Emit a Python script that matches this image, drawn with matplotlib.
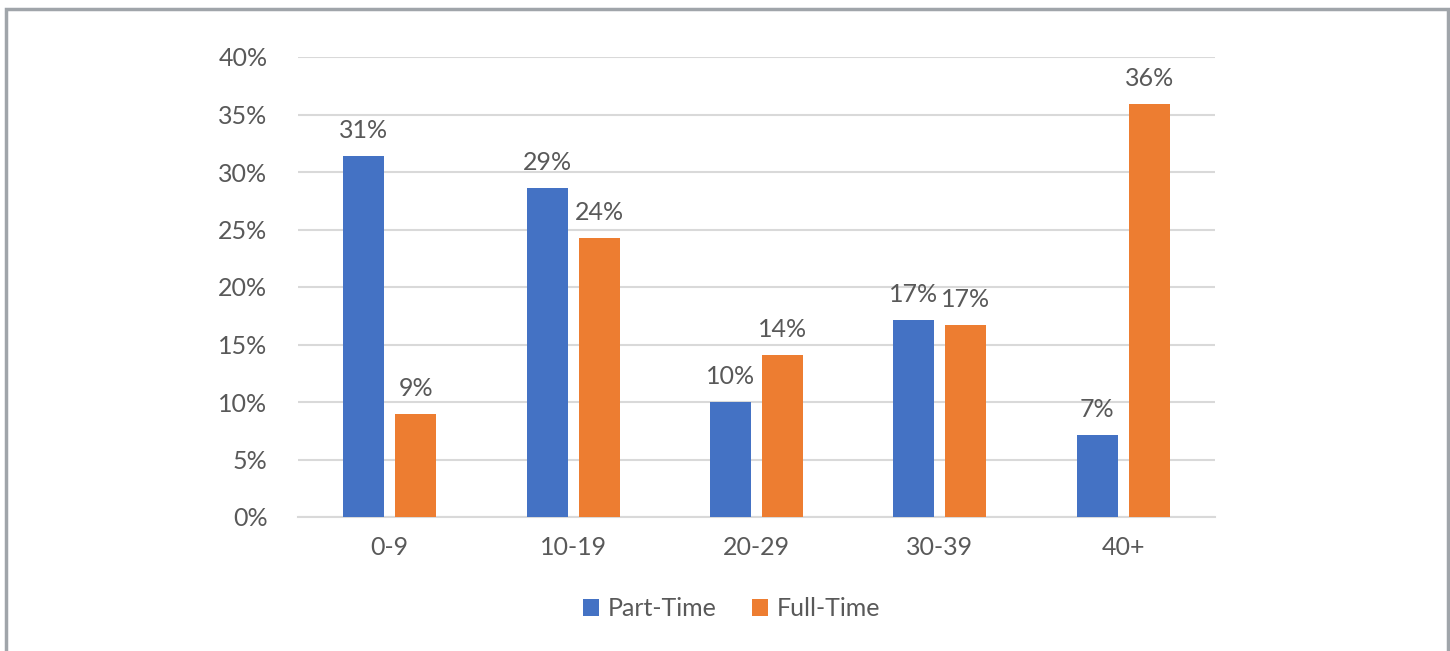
import numpy as np
import matplotlib.pyplot as plt
from matplotlib.patches import Rectangle

# Datos por rango de años
categorias = ['0-9', '10-19', '20-29', '30-39', '40+']
part_time = [31.4, 28.6, 10.0, 17.1, 7.1]
full_time = [9.0, 24.3, 14.1, 16.7, 35.9]

azul = '#4472C4'
naranja = '#ED7D31'
gris_texto = '#595959'

plt.rcParams['font.family'] = ['Lato', 'DejaVu Sans']

fig = plt.figure(figsize=(14.5, 6.51), dpi=100)
ax = fig.add_axes([298 / 1450, 1 - 517 / 651, (1215 - 298) / 1450, (517 - 57) / 651])

x = np.arange(len(categorias))
ancho = 0.224
desp = 0.142

b1 = ax.bar(x - desp, part_time, ancho, color=azul, label='Part-Time', zorder=3)
b2 = ax.bar(x + desp, full_time, ancho, color=naranja, label='Full-Time', zorder=3)

for barras in (b1, b2):
    ax.bar_label(barras, labels=[f'{v:.0f}%' for v in barras.datavalues],
                 padding=10, fontsize=18, color=gris_texto)

ax.set_xlim(-0.5, len(categorias) - 0.5)
ax.set_ylim(0, 40)
ax.set_yticks(np.arange(0, 41, 5))
ax.set_yticklabels([f'{v}%' for v in range(0, 41, 5)])
ax.set_xticks(x)
ax.set_xticklabels(categorias)
ax.tick_params(axis='both', length=0, labelsize=18, labelcolor=gris_texto)
ax.tick_params(axis='y', pad=22)
ax.tick_params(axis='x', pad=14)

ax.grid(axis='y', color='#d9d9d9', linewidth=1.5, zorder=0)
for lado in ['top', 'right', 'left']:
    ax.spines[lado].set_visible(False)
ax.spines['bottom'].set_color('#d9d9d9')
ax.spines['bottom'].set_linewidth(1.5)

ax.legend(loc='center', bbox_to_anchor=(0.473, -0.2), ncol=2, frameon=False,
          fontsize=18, labelcolor=gris_texto, handlelength=0.65, handleheight=0.65,
          handletextpad=0.35, columnspacing=1.4)

# Marco alrededor del gráfico
fig.patches.append(Rectangle((6 / 1450, -0.05), (1448 - 6) / 1450, 1.05 - 9 / 651,
                             transform=fig.transFigure, fill=False,
                             edgecolor='#a0a5aa', linewidth=2.5))

fig.savefig('out.png', dpi=100)
